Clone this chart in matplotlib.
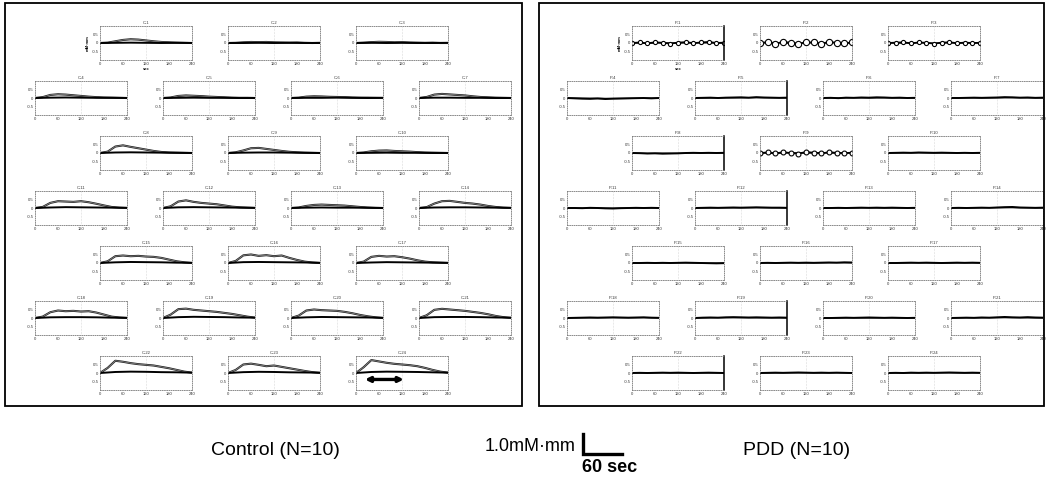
import matplotlib
matplotlib.use("Agg")
import matplotlib.pyplot as plt
from matplotlib.patches import Rectangle
from matplotlib.lines import Line2D

plt.rcParams["font.family"] = ["Liberation Sans", "DejaVu Sans"]

W, H = 1046, 486

# time grids (sec)
T_FINE = [0, 20, 40, 60, 80, 100, 120, 140, 160, 180, 200, 220, 240]
T_COARSE = [0, 40, 80, 120, 160, 200, 240]
X_TICKS = [0, 60, 120, 180, 240]
Y_TICKS = [-0.5, 0, 0.5]

ROW_SIZES = [3, 4, 3, 4, 3, 4, 3]

# Control: rising trace (mM*mm) per case, read row by row
CONTROL_RISE = [
    [0.00, 0.02, 0.10, 0.18, 0.22, 0.20, 0.15, 0.10, 0.06, 0.04, 0.02, 0.01, 0.00],
    [0.00, 0.01, 0.04, 0.06, 0.05, 0.06, 0.04, 0.03, 0.02, 0.03, 0.01, 0.00, 0.01],
    [0.00, 0.02, 0.05, 0.07, 0.06, 0.04, 0.05, 0.03, 0.02, 0.01, 0.02, 0.00, 0.00],
    [0.00, 0.05, 0.18, 0.22, 0.20, 0.16, 0.12, 0.08, 0.05, 0.03, 0.02, 0.01, 0.00],
    [0.00, 0.03, 0.12, 0.15, 0.13, 0.11, 0.08, 0.06, 0.04, 0.02, 0.01, 0.01, 0.00],
    [0.00, 0.02, 0.08, 0.10, 0.09, 0.07, 0.06, 0.05, 0.03, 0.02, 0.02, 0.01, 0.00],
    [0.00, 0.06, 0.20, 0.24, 0.21, 0.18, 0.15, 0.10, 0.06, 0.04, 0.02, 0.01, 0.00],
    [0.00, 0.08, 0.38, 0.45, 0.36, 0.28, 0.20, 0.12, 0.06, 0.03, 0.02, 0.01, 0.00],
    [0.00, 0.04, 0.15, 0.28, 0.30, 0.24, 0.18, 0.12, 0.07, 0.04, 0.02, 0.01, 0.00],
    [0.00, 0.03, 0.10, 0.14, 0.15, 0.12, 0.10, 0.08, 0.05, 0.03, 0.02, 0.01, 0.00],
    [0.00, 0.06, 0.30, 0.40, 0.38, 0.36, 0.40, 0.34, 0.25, 0.15, 0.06, 0.02, 0.00],
    [0.00, 0.10, 0.38, 0.45, 0.36, 0.30, 0.26, 0.22, 0.15, 0.08, 0.04, 0.02, 0.00],
    [0.00, 0.03, 0.12, 0.18, 0.20, 0.18, 0.16, 0.14, 0.10, 0.06, 0.03, 0.01, 0.00],
    [0.00, 0.05, 0.26, 0.40, 0.42, 0.36, 0.30, 0.26, 0.20, 0.12, 0.06, 0.02, 0.00],
    [0.00, 0.10, 0.40, 0.44, 0.40, 0.42, 0.38, 0.36, 0.30, 0.20, 0.10, 0.04, 0.00],
    [0.00, 0.12, 0.45, 0.50, 0.42, 0.46, 0.40, 0.44, 0.30, 0.18, 0.08, 0.03, 0.00],
    [0.00, 0.08, 0.36, 0.42, 0.38, 0.40, 0.34, 0.26, 0.16, 0.08, 0.04, 0.02, 0.00],
    [0.00, 0.08, 0.34, 0.44, 0.40, 0.42, 0.38, 0.40, 0.32, 0.20, 0.08, 0.03, 0.00],
    [0.00, 0.20, 0.52, 0.55, 0.48, 0.44, 0.40, 0.36, 0.30, 0.24, 0.16, 0.08, 0.02],
    [0.00, 0.14, 0.44, 0.50, 0.46, 0.44, 0.42, 0.36, 0.28, 0.18, 0.10, 0.04, 0.00],
    [0.00, 0.16, 0.48, 0.54, 0.50, 0.46, 0.42, 0.36, 0.30, 0.22, 0.12, 0.05, 0.00],
    [0.00, 0.30, 0.72, 0.66, 0.58, 0.52, 0.48, 0.44, 0.36, 0.28, 0.18, 0.08, 0.02],
    [0.00, 0.18, 0.50, 0.55, 0.48, 0.40, 0.44, 0.36, 0.28, 0.20, 0.12, 0.05, 0.00],
    [0.00, 0.34, 0.76, 0.68, 0.60, 0.54, 0.50, 0.46, 0.40, 0.30, 0.18, 0.08, 0.02],
]

# Control: baseline trace per case
CONTROL_BASE = [
    [0.00, 0.01, 0.02, 0.01, 0.00, 0.01, 0.00],
    [0.00, 0.00, 0.01, 0.00, 0.01, 0.00, 0.00],
    [0.00, 0.01, 0.00, 0.01, 0.00, 0.00, 0.01],
    [0.00, 0.02, 0.03, 0.02, 0.01, 0.01, 0.00],
    [0.00, 0.01, 0.02, 0.01, 0.01, 0.00, 0.00],
    [0.00, 0.01, 0.01, 0.02, 0.01, 0.00, 0.01],
    [0.00, 0.02, 0.02, 0.01, 0.01, 0.00, 0.00],
    [0.00, 0.03, 0.04, 0.03, 0.02, 0.01, 0.00],
    [0.00, 0.02, 0.03, 0.03, 0.02, 0.01, 0.00],
    [0.00, 0.01, 0.02, 0.01, 0.01, 0.00, 0.00],
    [0.00, 0.03, 0.05, 0.04, 0.03, 0.02, 0.01],
    [0.00, 0.04, 0.05, 0.04, 0.03, 0.02, 0.01],
    [0.00, 0.02, 0.03, 0.02, 0.02, 0.01, 0.00],
    [0.00, 0.03, 0.04, 0.04, 0.03, 0.02, 0.01],
    [0.00, 0.04, 0.06, 0.05, 0.04, 0.02, 0.01],
    [0.00, 0.05, 0.06, 0.05, 0.04, 0.03, 0.01],
    [0.00, 0.03, 0.05, 0.04, 0.03, 0.02, 0.01],
    [0.00, 0.04, 0.05, 0.05, 0.04, 0.02, 0.01],
    [0.00, 0.05, 0.07, 0.06, 0.05, 0.03, 0.02],
    [0.00, 0.04, 0.06, 0.05, 0.04, 0.03, 0.01],
    [0.00, 0.05, 0.06, 0.06, 0.05, 0.03, 0.02],
    [0.00, 0.06, 0.08, 0.07, 0.05, 0.04, 0.02],
    [0.00, 0.05, 0.07, 0.06, 0.04, 0.03, 0.02],
    [0.00, 0.06, 0.08, 0.07, 0.06, 0.04, 0.02],
]

# PDD: first trace per case
PDD_A = [
    [0.00, 0.03, -0.02, 0.04, 0.01, -0.03, 0.02, 0.05, -0.01, 0.03, 0.06, 0.00, 0.02],
    [0.00, 0.05, -0.04, 0.06, 0.02, -0.05, 0.04, 0.03, -0.03, 0.05, 0.02, -0.02, 0.03],
    [0.00, 0.02, 0.04, -0.02, 0.03, 0.01, -0.03, 0.02, 0.04, -0.01, 0.02, 0.00, 0.01],
    [0.00, -0.02, -0.04, -0.05, -0.03, -0.06, -0.04, -0.03, -0.02, -0.01, 0.00, -0.02, 0.00],
    [0.00, 0.01, 0.02, 0.00, 0.02, 0.03, 0.04, 0.02, 0.05, 0.03, 0.02, 0.01, 0.02],
    [0.00, 0.01, -0.01, 0.02, 0.01, 0.03, 0.02, 0.04, 0.03, 0.01, 0.02, 0.00, 0.01],
    [0.00, 0.00, 0.01, 0.02, 0.01, 0.02, 0.03, 0.05, 0.04, 0.02, 0.03, 0.01, 0.02],
    [0.00, -0.01, -0.03, -0.02, -0.04, -0.03, -0.02, 0.00, 0.01, 0.00, 0.01, 0.00, 0.01],
    [0.00, 0.03, -0.02, 0.04, 0.00, -0.03, 0.05, 0.02, -0.02, 0.04, 0.01, -0.01, 0.02],
    [0.00, 0.01, 0.02, 0.01, 0.03, 0.02, 0.01, 0.02, 0.01, 0.00, 0.01, 0.00, 0.01],
    [0.00, 0.00, -0.01, 0.01, 0.00, -0.02, -0.03, -0.01, 0.00, 0.01, 0.00, 0.01, 0.00],
    [0.00, 0.01, 0.02, 0.01, 0.02, 0.03, 0.02, 0.03, 0.04, 0.03, 0.02, 0.02, 0.01],
    [0.00, 0.00, 0.01, 0.00, 0.01, 0.02, 0.01, 0.02, 0.01, 0.02, 0.01, 0.00, 0.01],
    [0.00, 0.01, 0.00, 0.01, 0.02, 0.01, 0.03, 0.05, 0.06, 0.03, 0.02, 0.01, 0.02],
    [0.00, 0.00, 0.01, 0.00, 0.01, 0.00, 0.01, 0.02, 0.01, 0.00, -0.01, -0.02, -0.01],
    [0.00, 0.01, 0.00, 0.01, 0.02, 0.01, 0.02, 0.01, 0.02, 0.03, 0.02, 0.04, 0.03],
    [0.00, 0.00, 0.01, 0.02, 0.01, 0.02, 0.01, 0.00, 0.01, 0.02, 0.01, 0.02, 0.01],
    [0.00, 0.01, 0.02, 0.03, 0.02, 0.03, 0.04, 0.03, 0.02, 0.03, 0.04, 0.02, 0.01],
    [0.00, 0.02, 0.03, 0.02, 0.04, 0.05, 0.04, 0.03, 0.04, 0.03, 0.02, 0.03, 0.02],
    [0.00, 0.00, 0.01, 0.02, 0.01, 0.02, 0.03, 0.02, 0.01, 0.02, 0.01, 0.00, 0.01],
    [0.00, 0.01, 0.02, 0.01, 0.03, 0.02, 0.04, 0.06, 0.04, 0.03, 0.05, 0.03, 0.02],
    [0.00, 0.01, 0.00, 0.01, 0.02, 0.01, 0.02, 0.01, 0.00, 0.01, 0.02, 0.01, 0.00],
    [0.00, 0.01, 0.02, 0.01, 0.02, 0.03, 0.02, 0.01, 0.02, 0.01, 0.02, 0.01, 0.00],
    [0.00, 0.01, 0.00, 0.02, 0.01, 0.02, 0.01, 0.02, 0.03, 0.02, 0.01, 0.02, 0.01],
]

# PDD: second trace per case
PDD_B = [
    [0.00, -0.02, 0.01, -0.01, 0.02, 0.00, -0.01],
    [0.00, 0.03, -0.03, 0.02, -0.02, 0.03, 0.00],
    [0.00, -0.01, 0.02, -0.02, 0.01, 0.00, 0.01],
    [0.00, -0.01, -0.02, -0.03, -0.02, -0.01, 0.00],
    [0.00, 0.00, 0.01, 0.01, 0.02, 0.01, 0.00],
    [0.00, 0.00, 0.01, 0.00, 0.01, 0.00, 0.00],
    [0.00, 0.01, 0.00, 0.01, 0.02, 0.01, 0.00],
    [0.00, -0.02, -0.01, -0.02, 0.00, 0.00, 0.00],
    [0.00, -0.02, 0.02, -0.01, 0.02, -0.01, 0.00],
    [0.00, 0.00, 0.01, 0.00, 0.00, 0.01, 0.00],
    [0.00, -0.01, 0.00, -0.01, 0.00, 0.00, 0.00],
    [0.00, 0.00, 0.01, 0.01, 0.02, 0.01, 0.00],
    [0.00, 0.00, 0.00, 0.01, 0.00, 0.00, 0.00],
    [0.00, 0.00, 0.01, 0.02, 0.02, 0.01, 0.00],
    [0.00, 0.00, 0.00, 0.01, 0.00, -0.01, 0.00],
    [0.00, 0.00, 0.01, 0.00, 0.01, 0.02, 0.01],
    [0.00, 0.00, 0.01, 0.00, 0.00, 0.01, 0.00],
    [0.00, 0.01, 0.01, 0.02, 0.01, 0.02, 0.00],
    [0.00, 0.01, 0.02, 0.02, 0.01, 0.01, 0.00],
    [0.00, 0.00, 0.01, 0.00, 0.01, 0.00, 0.00],
    [0.00, 0.01, 0.01, 0.02, 0.02, 0.01, 0.00],
    [0.00, 0.00, 0.01, 0.00, 0.01, 0.00, 0.00],
    [0.00, 0.00, 0.01, 0.01, 0.00, 0.01, 0.00],
    [0.00, 0.00, 0.00, 0.01, 0.01, 0.00, 0.00],
]

CONTROL_IDS = ["C-%d" % (i + 1) for i in range(24)]
PDD_IDS = ["P-%d" % (i + 1) for i in range(24)]

PDD_CIRCLES = {0: 3.0, 1: 4.5, 2: 3.0, 8: 3.5}   # cases drawn with open circles
PDD_SOLID_RIGHT = [0, 4, 7, 11, 18, 21]          # right frame drawn solid


def slot_positions(x_off):
    """pixel (left, zero-line y) of each small plot, row by row"""
    out = []
    for r, n in enumerate(ROW_SIZES):
        x0 = 100 if n == 3 else 35
        zy = 43 + 55 * r
        for c in range(n):
            out.append((x_off + x0 + 128 * c, zy))
    return out


def small_axes(fig, left, zy, title, solid_right=False):
    ax = fig.add_axes([left / W, (H - zy - 17) / H, 92 / W, 34 / H])
    ax.patch.set_alpha(0)
    ax.set_xlim(0, 240)
    ax.set_ylim(-1, 1)
    ax.set_xticks(X_TICKS)
    ax.set_xticklabels([str(t) for t in X_TICKS])
    ax.set_yticks(Y_TICKS)
    ax.set_yticklabels(["-0.5", "0", "0.5"])
    ax.tick_params(length=0, labelsize=3, pad=1.2, colors="#333")
    for s in ax.spines.values():
        s.set_linestyle(":")
        s.set_color("#777")
        s.set_linewidth(0.6)
    if solid_right:
        ax.spines["right"].set_linestyle("-")
        ax.spines["right"].set_color("black")
        ax.spines["right"].set_linewidth(1.1)
    ax.axvline(120, ls=":", color="#bbb", lw=0.4)
    ax.set_title(title, fontsize=3, pad=1.5, color="#333")
    return ax


fig = plt.figure(figsize=(W / 100, H / 100), dpi=100)

# panel frames
for bx, bw in [(5, 517), (539, 505)]:
    fig.add_artist(Rectangle((bx / W, (H - 406) / H), bw / W, 403 / H,
                             transform=fig.transFigure, fill=False,
                             ec="black", lw=1.3))

# ----- Control panel -----
ctrl_axes = []
for i, (left, zy) in enumerate(slot_positions(0)):
    ax = small_axes(fig, left, zy, CONTROL_IDS[i])
    ax.plot(T_FINE, CONTROL_RISE[i], color="#222", lw=1.5, solid_capstyle="round")
    ax.plot(T_FINE, CONTROL_RISE[i], color="#aaa", lw=0.4)
    ax.plot(T_COARSE, CONTROL_BASE[i], color="black", lw=1.4)
    ctrl_axes.append(ax)

ctrl_axes[0].set_ylabel("mM·mm", fontsize=3, labelpad=1, fontweight="bold")
ctrl_axes[0].set_xlabel("sec", fontsize=3, labelpad=1, fontweight="bold")
ctrl_axes[-1].annotate("", xy=(132, -0.38), xytext=(16, -0.38),
                       arrowprops=dict(arrowstyle="<|-|>", color="black",
                                       lw=2.4, mutation_scale=7))

# ----- PDD panel -----
pdd_axes = []
for i, (left, zy) in enumerate(slot_positions(532)):
    ax = small_axes(fig, left, zy, PDD_IDS[i], solid_right=i in PDD_SOLID_RIGHT)
    ax.plot(T_COARSE, PDD_B[i], color="#333", lw=1.0)
    if i in PDD_CIRCLES:
        ax.plot(T_FINE, PDD_A[i], color="black", lw=1.3, marker="o",
                ms=PDD_CIRCLES[i], mfc="white", mec="black", mew=0.8)
    else:
        ax.plot(T_FINE, PDD_A[i], color="black", lw=1.4)
    pdd_axes.append(ax)

pdd_axes[0].set_ylabel("mM·mm", fontsize=3, labelpad=1, fontweight="bold")
pdd_axes[0].set_xlabel("sec", fontsize=3, labelpad=1, fontweight="bold")

# ----- group labels and scale bar -----
fig.text(275 / W, 1 - 450 / H, "Control (N=10)", ha="center", va="center",
         fontsize=14)
fig.text(797 / W, 1 - 450 / H, "PDD (N=10)", ha="center", va="center",
         fontsize=14)
fig.text(575 / W, 1 - 446 / H, "1.0mM·mm", ha="right", va="center",
         fontsize=13)
fig.add_artist(Line2D([583 / W, 583 / W, 622 / W],
                      [1 - 434 / H, 1 - 454 / H, 1 - 454 / H],
                      transform=fig.transFigure, color="black", lw=2.4,
                      solid_joinstyle="miter"))
fig.text(582 / W, 1 - 468 / H, "60 sec", ha="left", va="center",
         fontsize=13, fontweight="bold")

fig.savefig("out.png", dpi=100)
